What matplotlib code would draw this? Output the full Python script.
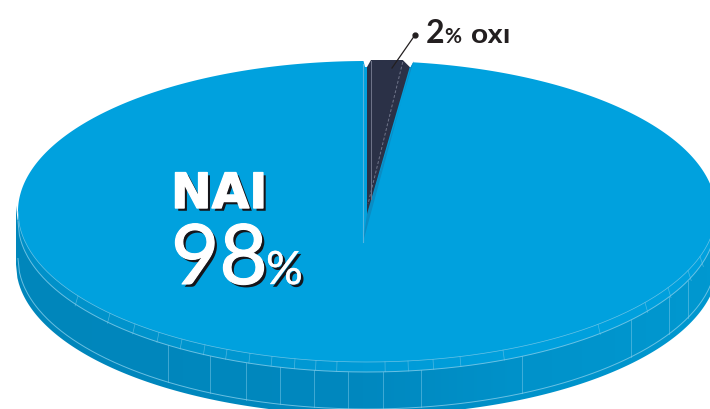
import numpy as np
import matplotlib
matplotlib.use('Agg')
import matplotlib.pyplot as plt
from matplotlib.colors import LinearSegmentedColormap
from matplotlib.patches import Polygon
import matplotlib.patheffects as pe

# data
labels = ['NAI', 'OXI']
shares = [98, 2]

# ellipse of the pie face, in picture pixels
cx, cy = 367, 212.5
a, b = 349, 150.5
lip = 10
rim2 = 47
depth = 53

# facet marks on the rim
lip_ticks = [78, 110, 135, 159, 182, 205, 227, 250, 272, 295, 316, 337, 385, 408, 433, 460,
             503, 598, 645, 668, 688, 700]
side_ticks = [168, 210, 246, 280, 314, 348, 383, 421, 522, 631, 669, 688]

BLUE = '#00a1de'
DARK = '#2b3147'
LINE = '#7cc9e8'
INK = '#231f20'


def lower_edge(off, rad=a):
    x = np.linspace(cx - rad, cx + rad, 500)
    y = cy + off + b * np.sqrt(np.clip(1 - ((x - cx) / rad) ** 2, 0, 1))
    return x, y


def edge_at(x, off):
    return cy + off + b * np.sqrt(1 - ((x - cx) / a) ** 2)


def rim_point(deg):
    t = np.radians(deg)
    return cx + a * np.sin(t), cy - b * np.cos(t)


def gradient_band(ax, stops, x1, y1, x2, y2, z):
    cmap = LinearSegmentedColormap.from_list('band', [(p / 710, c) for p, c in stops])
    im = ax.imshow(np.linspace(0, 1, 710)[None, :], cmap=cmap, extent=(0, 710, 410, 0),
                   aspect='auto', zorder=z)
    poly = Polygon(np.r_[np.c_[x1, y1], np.c_[x2[::-1], y2[::-1]]], closed=True,
                   transform=ax.transData, fc='none', ec='none')
    ax.add_patch(poly)
    im.set_clip_path(poly)


def shadow_text(ax, x, y, s, width, **kw):
    # black shadow down right, white face thickened a bit
    ax.text(x, y, s, color='white', va='baseline', zorder=9,
            path_effects=[pe.SimplePatchShadow(offset=(2, -2), shadow_rgbFace='#15151a', alpha=1),
                          pe.Stroke(linewidth=width, foreground='white'), pe.Normal()], **kw)


fig = plt.figure(figsize=(7.1, 4.1), dpi=100)
ax = fig.add_axes([0, 0, 1, 1])

# side wall and lip
x1, y1 = lower_edge(-6, a + 2)
x2, y2 = lower_edge(depth, a + 2)
gradient_band(ax, [(0, '#0086bb'), (363, '#0088bf'), (522, '#0092ca'), (710, '#0098d0')], x1, y1, x2, y2, 1)
x1, y1 = lower_edge(-3)
x2, y2 = lower_edge(lip)
gradient_band(ax, [(0, '#0090c8'), (200, '#0096cf'), (363, '#009ad6'), (522, '#00a0dd'), (710, '#00a1de')],
              x1, y1, x2, y2, 2)

# face
t = np.linspace(0, 2 * np.pi, 720)
ax.fill(cx + a * np.cos(t), cy + b * np.sin(t), color=BLUE, lw=0, zorder=3)

# rim lines
for off, w in ((0, 0.5), (lip, 0.7), (rim2, 0.7)):
    x, y = lower_edge(off)
    ax.plot(x, y, color=LINE, lw=w, alpha=0.85, zorder=4)
for x in lip_ticks:
    ax.plot([x, x + (x - cx) / 100], [edge_at(x, 0), edge_at(x, lip)], color=LINE, lw=0.5, alpha=0.6, zorder=4)
for x in side_ticks:
    ax.plot([x, x], [edge_at(x, lip), edge_at(x, rim2)], color=LINE, lw=0.6, alpha=0.6, zorder=4)

# small slice, its width comes from the share
x_left, y_top = rim_point(0)
x_right, _ = rim_point(shares[1] * 3.6)
apex_dark = (x_left, 215)
apex_blue = (x_left - 4, 243)

ax.add_patch(Polygon([(x_left - 4, y_top - 2), (x_right + 4, y_top - 2), (x_right, y_top + 6),
                      (x_left - 2, y_top + 6)], closed=True, fc='white', ec='none', zorder=5))
ax.add_patch(Polygon([(x_right + 3, y_top), (x_right, y_top + 6), apex_blue, (x_left, apex_dark[1])],
                     closed=True, fc='#0a8cc4', ec='none', zorder=5))
ax.add_patch(Polygon([(x_left, y_top + 6), (x_left + 4, y_top - 1), (x_right - 8, y_top - 1),
                      (x_right - 1, y_top + 6), apex_dark], closed=True, fc=DARK, ec='none', zorder=6))
ax.plot([x_left - 4, x_left - 4], [y_top + 3, apex_blue[1]], color='#55b5e0', lw=0.8, zorder=6)
ax.plot([x_left + 4, x_left + 4], [y_top, 200], color='#70758a', lw=0.7, zorder=7)
ax.plot([x_right - 8, x_left + 1], [y_top + 1, 205], color='#70758a', lw=0.7, ls=(0, (3, 2)), zorder=7)

# leader
ax.plot([415, 392], [36, 69], color=INK, lw=0.9, zorder=8)
ax.plot([415], [36], 'o', color=INK, ms=3.5, zorder=8)

# labels
shadow_text(ax, 171, 209, labels[0], 1.0, fontsize=35, family='DejaVu Sans', weight='bold')
shadow_text(ax, 171, 285, str(shares[0]), 0.8, fontsize=60, family='Lato', weight='normal')
shadow_text(ax, 266, 285, '%', 0.3, fontsize=33, family='Lato', weight='normal')

ax.text(426, 43, str(shares[1]), color=INK, fontsize=23, family='Lato', weight='bold', va='baseline', zorder=9)
ax.text(444, 43, '%', color=INK, fontsize=15, family='Lato', weight='bold', va='baseline', zorder=9)
ax.text(471, 43, labels[1], color=INK, fontsize=14.5, family='DejaVu Sans', weight='bold', va='baseline', zorder=9)

ax.set_xlim(0, 710)
ax.set_ylim(410, 0)
ax.axis('off')
fig.savefig('out.png', dpi=100, facecolor='white')
